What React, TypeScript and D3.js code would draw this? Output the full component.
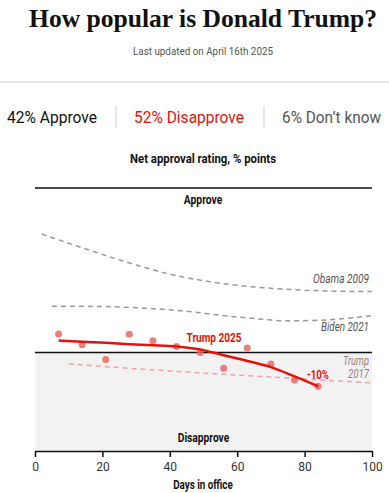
import React from 'react';
import * as d3 from 'd3';

// poll dots for Trump 2025 (days in office, net approval)
const pollDays = [7, 14, 21, 28, 35, 42, 49, 56, 63, 70, 77, 84];
const pollNet = [5.6, 2.3, -2.2, 5.5, 3.5, 1.8, 0, -4.8, 1.3, -3.5, -8.4, -10.3];

// smoothed trend for Trump 2025
const trendNet = [3.6, 3.2, 2.9, 2.5, 2.2, 1.8, 0.9, -0.9, -2.6, -4.5, -7.3, -10.3];

// comparison presidencies
const obamaDays = [2, 10, 20, 30, 40, 50, 60, 70, 80, 90, 100];
const obamaNet = [36, 33.2, 29.8, 26.6, 23.8, 21.8, 20.4, 19.5, 18.9, 18.6, 18.5];

const bidenDays = [5, 15, 25, 35, 45, 55, 65, 75, 85, 100];
const bidenNet = [14, 14, 13.8, 13.3, 12.5, 11.3, 10.3, 9.6, 9.8, 11.2];

const trump17Days = [10, 30, 50, 70, 100];
const trump17Net = [-3.5, -5, -6.3, -7.5, -9.3];

const xTicks = [0, 20, 40, 60, 80, 100];

const SANS = 'Roboto, sans-serif';
const RED = '#e3120b';

type LabelProps = {
  x: number;
  y: number;
  w: number;
  size: number;
  fill?: string;
  bold?: boolean;
  italic?: boolean;
  anchor?: 'start' | 'middle' | 'end';
  children: React.ReactNode;
};

// condensed-looking text: squeeze to the width measured in the reference
const Label = ({ x, y, w, size, fill = '#111', bold, italic, anchor = 'start', children }: LabelProps) => (
  <text
    x={x}
    y={y}
    textAnchor={anchor}
    textLength={w}
    lengthAdjust="spacingAndGlyphs"
    fontFamily={SANS}
    fontSize={size}
    fontWeight={bold ? 'bold' : 'normal'}
    fontStyle={italic ? 'italic' : 'normal'}
    fill={fill}
  >
    {children}
  </text>
);

const App: React.FC = () => {
  const width = 389;
  const height = 493;
  const axisRef = React.useRef<SVGGElement | null>(null);

  const x = d3.scaleLinear().domain([0, 100]).range([35, 372]);
  const y = d3.scaleLinear().domain([-30, 50]).range([451, 188]);

  const line = d3
    .line<[number, number]>()
    .x((d) => x(d[0]))
    .y((d) => y(d[1]))
    .curve(d3.curveMonotoneX);

  const zip = (a: number[], b: number[]) => a.map((v, i) => [v, b[i]] as [number, number]);

  React.useEffect(() => {
    const g = d3.select(axisRef.current);
    g.selectAll('*').remove();
    g.call(d3.axisBottom(x).tickValues(xTicks).tickSize(6).tickSizeOuter(0));
    g.select('.domain').attr('stroke', '#111').attr('stroke-width', 1.5);
    g.selectAll('.tick line').attr('stroke', '#111').attr('stroke-width', 1.5);
    g.selectAll('.tick text')
      .attr('font-family', SANS)
      .attr('font-size', 12)
      .attr('fill', '#333')
      .attr('dy', '0.9em');
  }, []);

  return (
    <svg
      width={width}
      height={height}
      style={{ position: 'absolute', left: 0, top: 0, background: '#fff' }}
    >
      {/* header */}
      <text
        x={203}
        y={27}
        textAnchor="middle"
        textLength={348}
        lengthAdjust="spacingAndGlyphs"
        fontFamily='"Liberation Serif", "DejaVu Serif", serif'
        fontWeight="bold"
        fontSize={26}
        fill="#111"
      >
        How popular is Donald Trump?
      </text>
      <Label x={203} y={55} w={140} size={11} fill="#555" anchor="middle">
        Last updated on April 16th 2025
      </Label>
      <rect x={0} y={81} width={width} height={2} fill="#e6e6e6" />

      {/* headline numbers */}
      <Label x={7} y={123} w={90} size={16}>
        42% Approve
      </Label>
      <line x1={116} x2={116} y1={106} y2={128} stroke="#ccc" />
      <Label x={134} y={123} w={110} size={16} fill={RED}>
        52% Disapprove
      </Label>
      <line x1={264} x2={264} y1={106} y2={128} stroke="#ccc" />
      <Label x={282} y={123} w={99} size={16} fill="#555">
        6% Don’t know
      </Label>

      <Label x={203} y={163} w={146} size={12.5} bold anchor="middle">
        Net approval rating, % points
      </Label>

      {/* chart area */}
      <rect x={x(0)} y={y(0)} width={x(100) - x(0)} height={y(-30) - y(0)} fill="#f2f2f2" />
      <line x1={x(0)} x2={x(100)} y1={y(50)} y2={y(50)} stroke="#111" strokeWidth={1.5} />
      <line x1={x(0)} x2={x(100)} y1={y(0)} y2={y(0)} stroke="#111" strokeWidth={1.5} />

      <Label x={203} y={204} w={38.5} size={12} bold anchor="middle">
        Approve
      </Label>
      <Label x={203.5} y={442} w={51.5} size={12} bold anchor="middle">
        Disapprove
      </Label>

      <path
        d={line(zip(obamaDays, obamaNet)) || ''}
        fill="none"
        stroke="#999"
        strokeWidth={1.5}
        strokeDasharray="5,4"
      />
      <path
        d={line(zip(bidenDays, bidenNet)) || ''}
        fill="none"
        stroke="#999"
        strokeWidth={1.5}
        strokeDasharray="5,4"
      />
      <path
        d={line(zip(trump17Days, trump17Net)) || ''}
        fill="none"
        stroke="#f0a3a0"
        strokeWidth={1.5}
        strokeDasharray="5,4"
      />

      <Label x={369} y={283} w={56} size={12} italic fill="#555" anchor="end">
        Obama 2009
      </Label>
      <Label x={369} y={331} w={48} size={12} italic fill="#555" anchor="end">
        Biden 2021
      </Label>
      <Label x={369} y={365} w={26} size={12} italic fill="#9a7f7f" anchor="end">
        Trump
      </Label>
      <Label x={369} y={378} w={21} size={12} italic fill="#9a7f7f" anchor="end">
        2017
      </Label>

      {pollDays.map((d, i) => (
        <circle key={d} cx={x(d)} cy={y(pollNet[i])} r={3.5} fill="#e56a64" fillOpacity={0.85} />
      ))}

      <path
        d={line(zip(pollDays, trendNet)) || ''}
        fill="none"
        stroke={RED}
        strokeWidth={2.5}
      />

      <Label x={214} y={342} w={55} size={12.5} bold fill={RED} anchor="middle">
        Trump 2025
      </Label>
      <Label x={318} y={379} w={22} size={12.5} bold fill={RED} anchor="middle">
        -10%
      </Label>

      <g ref={axisRef} transform={`translate(0,${y(-30)})`} />
      <Label x={203} y={489} w={59.5} size={12} bold anchor="middle">
        Days in office
      </Label>
    </svg>
  );
};

export default App;
